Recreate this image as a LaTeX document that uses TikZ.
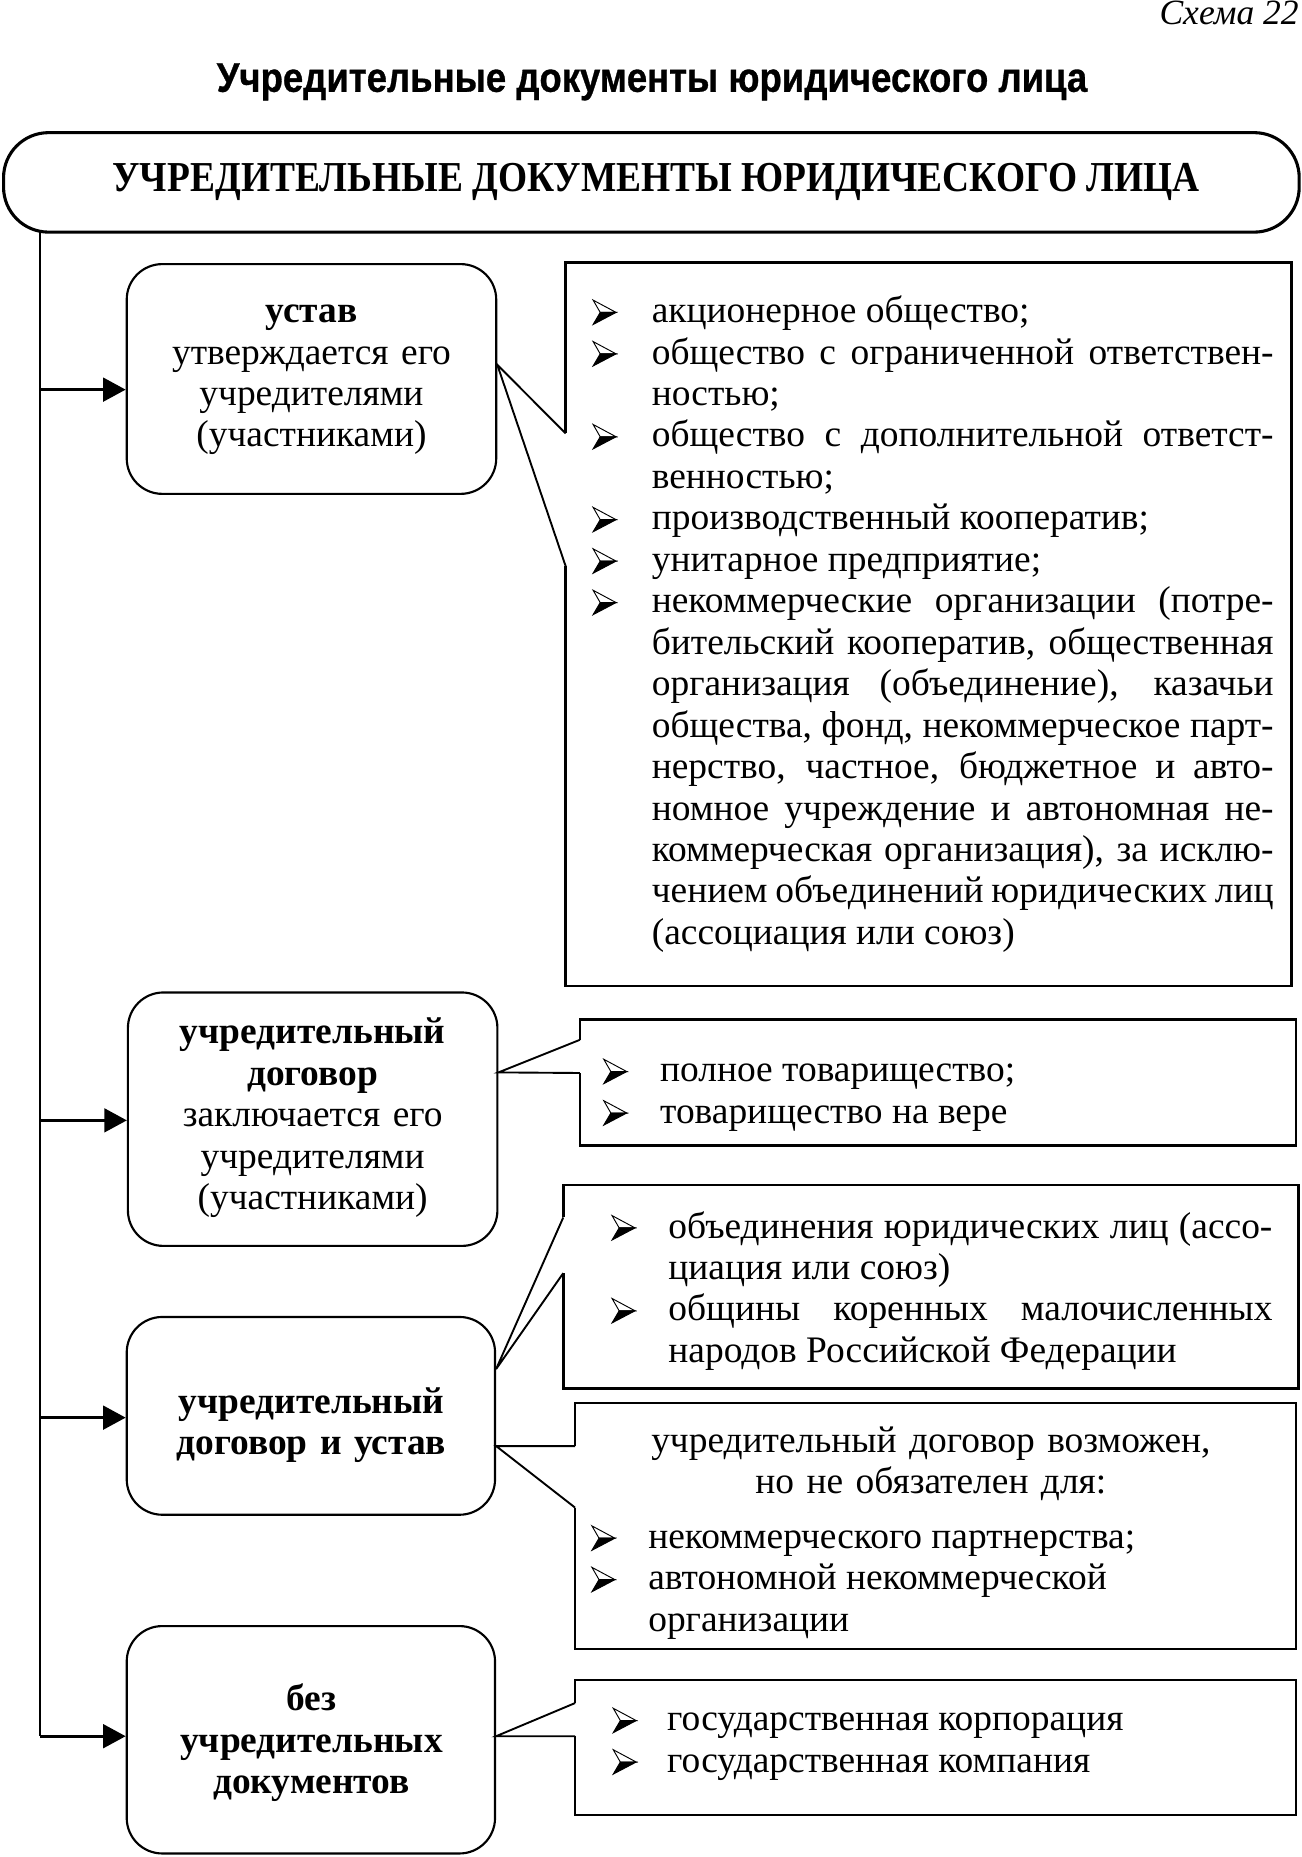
\documentclass[tikz,border=0pt]{standalone}
\usepackage{fontspec}
\usepackage{graphicx}
\setmainfont{Liberation Serif}
\newfontfamily\titlefont[FakeBold=0.8]{Liberation Sans Bold}
\usetikzlibrary{arrows.meta}
\tolerance=10000
\newcommand{\bul}{\tikz[x=1pt,y=1pt,baseline=0pt,line width=0.4pt,line join=miter]{%
  \filldraw (0,-0.8) -- (9.7,4.3) -- (3,4.3) -- cycle;
  \draw (0,9.5) -- (9.7,4.3) -- (3,4.3) -- cycle;}}
\newcommand{\just}{\leftskip=0pt\rightskip=0pt\parfillskip=0pt plus 1fil\spaceskip=.25em plus .6em minus .12em\relax}
\newcommand{\itm}[2][25pt]{\noindent\hangindent=#1\hangafter=1\makebox[#1][l]{\bul}\strut #2\par}
\begin{document}
\begin{tikzpicture}[x=0.5pt,y=-0.5pt,
  body/.style={inner sep=0pt, font=\fontsize{15.8}{17.5}\selectfont},
  lbox/.style={draw, line width=0.9pt, rounded corners=15pt, inner sep=0pt},
  rbox/.style={inner sep=0pt},
  hdrbox/.style={draw, line width=1.3pt, rounded corners=19pt, inner sep=0pt},
  edge/.style={line width=1.1pt},
  notch/.style={line width=0.8pt},
  trunk/.style={line width=0.9pt},
  arr/.style={line width=1.1pt, -{Triangle[length=9.5pt,width=10pt]}},
  ltxt/.style={body, anchor=north, text width=160pt},
  rtxt/.style={body, anchor=north west, text width=#1}]
\useasboundingbox (0,0) rectangle (1099,1568);

% titles
\node[anchor=base east, font=\itshape\fontsize{15}{17}\selectfont, inner sep=0pt] (schema) at (1097,21) {Схема 22};
\node[anchor=base, inner sep=0pt] (title) at (550.5,77.5)
  {\resizebox{367.5pt}{\height}{\titlefont\fontsize{17.5}{20}\selectfont Учредительные документы юридического лица}};

% header
\node[hdrbox, minimum width=547pt, minimum height=42pt] (hdr) at (550,154) {};
\node[anchor=base, inner sep=0pt] (hdrtxt) at (554,162)
  {\resizebox{459pt}{\height}{\bfseries\fontsize{18}{20}\selectfont УЧРЕДИТЕЛЬНЫЕ ДОКУМЕНТЫ ЮРИДИЧЕСКОГО ЛИЦА}};

% left boxes
\node[lbox, minimum width=156pt, minimum height=97pt] (b1) at (263,320) {};
\node[lbox, minimum width=156pt, minimum height=107pt] (b2) at (264,945) {};
\node[lbox, minimum width=155.5pt, minimum height=83.5pt] (b3) at (262.5,1195.5) {};
\node[lbox, minimum width=155.5pt, minimum height=96pt] (b4) at (262.5,1469) {};

\node[ltxt] (t1) at (263,247.5) {\centering\strut\textbf{устав}\\утверждается его\\учредителями\\(участниками)\par};
\node[ltxt] (t2) at (264,856.5) {\centering\strut\textbf{учредительный}\\\textbf{договор}\\заключается его\\учредителями\\(участниками)\par};
\node[ltxt] (t3) at (263,1168.5) {\centering\strut\textbf{учредительный}\\\textbf{договор и устав}\par};
\node[ltxt] (t4) at (263,1419.5) {\centering\strut\textbf{без}\\\textbf{учредительных}\\\textbf{документов}\par};

% trunk and arrows
\coordinate (trtop) at (34,194);
\coordinate (a1) at (34,329);
\coordinate (a2) at (34,946);
\coordinate (a3) at (34,1197);
\coordinate (a4) at (34,1466);
\draw[trunk] (trtop) -- (a4);
\draw[arr] (a1) -- (a1 -| b1.west);
\draw[arr] (a2) -- (a2 -| b2.west);
\draw[arr] (a3) -- (a3 -| b3.west);
\draw[arr] (a4) -- (a4 -| b4.west);

% right boxes
\node[rbox, minimum width=306pt, minimum height=305pt] (r1) at (784,527) {};
\node[rbox, minimum width=302pt, minimum height=53pt] (r2) at (792,914) {};
\node[rbox, minimum width=310pt, minimum height=85.5pt] (r3) at (786,1086.5) {};
\node[rbox, minimum width=304pt, minimum height=103.5pt] (r4) at (790,1288.5) {};
\node[rbox, minimum width=304pt, minimum height=56.5pt] (r5) at (790,1475.5) {};

\coordinate (p1) at (b1.east |- 0,308);
\coordinate (p2) at (b2.east |- 0,905.5);
\coordinate (p3) at (b3.east |- 0,1156);
\coordinate (p4) at (b3.east |- 0,1221);
\coordinate (p5) at (b4.east |- 0,1466);

\draw[edge] (r1.west |- 0,366) -- (r1.north west) -- (r1.north east) -- (r1.south east) -- (r1.south west) -- (r1.west |- 0,478);
\draw[notch] (r1.west |- 0,366) -- (p1) -- (r1.west |- 0,478);
\draw[edge] (r2.west |- 0,878) -- (r2.north west) -- (r2.north east) -- (r2.south east) -- (r2.south west) -- (r2.west |- 0,906);
\draw[notch] (r2.west |- 0,878) -- (p2) -- (r2.west |- 0,906);
\draw[edge] (r3.west |- 0,1028) -- (r3.north west) -- (r3.north east) -- (r3.south east) -- (r3.south west) -- (r3.west |- 0,1075);
\draw[notch] (r3.west |- 0,1028) -- (p3) -- (r3.west |- 0,1075);
\draw[edge] (r4.west |- 0,1221) -- (r4.north west) -- (r4.north east) -- (r4.south east) -- (r4.south west) -- (r4.west |- 0,1273);
\draw[notch] (r4.west |- 0,1221) -- (p4) -- (r4.west |- 0,1273);
\draw[edge] (r5.west |- 0,1438) -- (r5.north west) -- (r5.north east) -- (r5.south east) -- (r5.south west) -- (r5.west |- 0,1466);
\draw[notch] (r5.west |- 0,1438) -- (p5) -- (r5.west |- 0,1466);

% right texts
\node[rtxt=287.5pt] (r1t) at (500,247.5) {\just
\itm{акционерное общество;}%
\itm{общество с ограниченной ответствен-\linebreak ностью;}%
\itm{общество с дополнительной ответст-\linebreak венностью;}%
\itm{производственный кооператив;}%
\itm{унитарное предприятие;}%
\itm{некоммерческие организации (потре-\linebreak бительский кооператив, общественная\linebreak организация (объединение), казачьи\linebreak общества, фонд, некоммерческое парт-\linebreak нерство, частное, бюджетное и авто-\linebreak номное учреждение и автономная не-\linebreak коммерческая организация), за исклю-\linebreak чением объединений юридических лиц\linebreak (ассоциация или союз)}};

\node[rtxt=280pt] (r2t) at (509,888.5) {\just
\itm[24pt]{полное товарищество;}%
\itm[24pt]{товарищество на вере}};

\node[rtxt=279pt] (r3t) at (516,1020.5) {\just
\itm[24pt]{объединения юридических лиц (ассо-\linebreak циация или союз)}%
\itm[24pt]{общины коренных малочисленных\linebreak народов Российской Федерации}};

\node[body, anchor=north, text width=290pt] (r4h) at (786,1201.5) {\centering\strut учредительный договор возможен,\\но не обязателен для:\par};
\node[rtxt=280pt] (r4t) at (499,1282.5) {\just
\itm[24pt]{некоммерческого партнерства;}%
\itm[24pt]{автономной некоммерческой\newline организации}};

\node[rtxt=280pt] (r5t) at (517,1436.5) {\just
\itm[23pt]{государственная корпорация}%
\itm[23pt]{государственная компания}};
\end{tikzpicture}
\end{document}
